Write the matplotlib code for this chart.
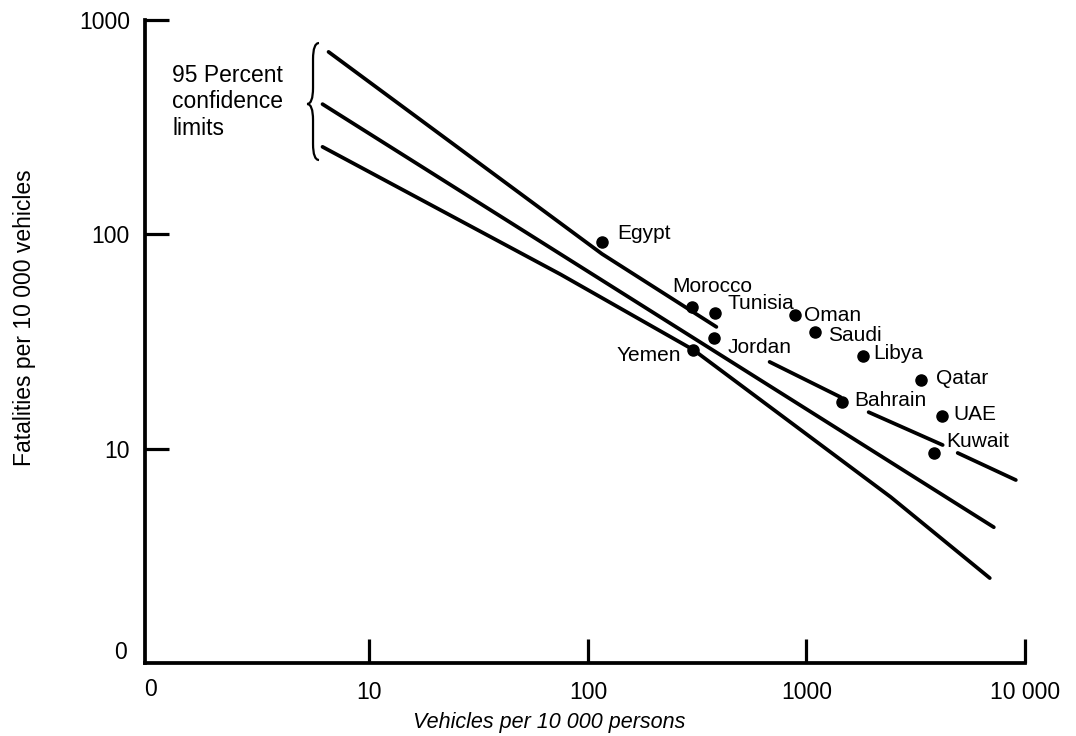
import numpy as np
import matplotlib
matplotlib.use("Agg")
import matplotlib.pyplot as plt
from matplotlib.path import Path
from matplotlib.patches import PathPatch

plt.rcParams['font.family'] = ['Liberation Sans', 'DejaVu Sans']

# data (log-log)
countries = ['Egypt', 'Morocco', 'Tunisia', 'Oman', 'Saudi', 'Jordan',
             'Yemen', 'Libya', 'Qatar', 'Bahrain', 'UAE', 'Kuwait']
vehicles = [116, 298, 383, 882, 1089, 379, 304, 1807, 3332, 1449, 4159, 3822]
fatalities = [92, 46, 43, 42, 35, 33, 29, 27, 21, 16.5, 14.2, 9.5]

# regression line and 95% confidence limits (nan = gap around labels)
reg_x = [6.1, 7200]
reg_y = [405, 4.3]
upper_x = [6.5, 116, 387, np.nan, 678, 1432, np.nan, 1925, 4200, np.nan, 4920, 9080]
upper_y = [710, 81, 37, np.nan, 25.4, 17.4, np.nan, 14.8, 10.4, np.nan, 9.55, 7.14]
lower_x = [6.1, 75, 304, 819, 2428, 6900]
lower_y = [256, 65, 28.9, 13.6, 5.95, 2.49]

x_ticks = [10, 100, 1000, 10000]
x_tick_labels = ['10', '100', '1000', '10 000']
y_ticks = [10, 100, 1000]
y_tick_labels = ['10', '100', '1000']

# label offsets in pixels (dx, dy, ha)
label_pos = {
    'Egypt': (15, 9, 'left'), 'Morocco': (-19, 20, 'left'),
    'Tunisia': (12, 9, 'left'), 'Oman': (9, 0, 'left'),
    'Saudi': (13, -3, 'left'), 'Jordan': (13, -10, 'left'),
    'Yemen': (-12, -6, 'right'), 'Libya': (11, 3, 'left'),
    'Qatar': (15, 1, 'left'), 'Bahrain': (13, 2, 'left'),
    'UAE': (12, 2, 'left'), 'Kuwait': (13, 12, 'left'),
}

fig = plt.figure(figsize=(10.76, 7.36), dpi=100)
ax = fig.add_axes([0.1348, 0.0992, 0.8178, 0.8736])
ax.set_xscale('log')
ax.set_yscale('log')
ax.set_xlim(0.94, 10000)
ax.set_ylim(1, 1000)

lw = 2.7
ax.plot(reg_x, reg_y, color='black', lw=lw, solid_capstyle='round')
ax.plot(upper_x, upper_y, color='black', lw=lw, solid_capstyle='round')
ax.plot(lower_x, lower_y, color='black', lw=lw, solid_capstyle='round')
ax.plot(vehicles, fatalities, 'o', color='black', ms=8, zorder=3)

for name, vx, fy in zip(countries, vehicles, fatalities):
    dx, dy, ha = label_pos[name]
    ax.annotate(name, (vx, fy), xytext=(dx, dy), textcoords='offset pixels',
                ha=ha, va='center', fontsize=15)

# axes styling
for side in ['top', 'right']:
    ax.spines[side].set_visible(False)
for side in ['left', 'bottom']:
    ax.spines[side].set_linewidth(2.7)
ax.minorticks_off()
ax.set_xticks(x_ticks)
ax.set_xticklabels(x_tick_labels)
ax.set_yticks(y_ticks)
ax.set_yticklabels(y_tick_labels)
ax.tick_params(direction='in', length=17, width=2.3, labelsize=16.5, pad=13)
ax.tick_params(axis='y', pad=11)

# the "0" at the origin
ax.annotate('0', (1, 1), xytext=(0, -27), textcoords='offset pixels',
            ha='center', va='center', fontsize=16.5)
ax.annotate('0', (0, 1), xycoords=('axes fraction', 'data'), xytext=(-18, 10),
            textcoords='offset pixels', ha='right', va='center', fontsize=16.5)

ax.set_xlabel('Vehicles per 10 000 persons', fontsize=15.5, style='italic', va='center')
ax.xaxis.set_label_coords(0.459, -0.093)
ax.set_ylabel('Fatalities per 10 000 vehicles', fontsize=16.5, va='center')
ax.yaxis.set_label_coords(-0.1375, 0.5365)

# brace + note for the confidence limits
xc, w = 0.1909, 0.0068
yt, ym, yb, dy = 0.9642, 0.8694, 0.7823, 0.025
verts = [(xc + w, yt), (xc, yt), (xc, yt - dy), (xc, ym + dy),
         (xc, ym), (xc - w, ym), (xc, ym), (xc, ym - dy),
         (xc, yb + dy), (xc, yb), (xc + w, yb)]
codes = [Path.MOVETO, Path.CURVE3, Path.CURVE3, Path.LINETO,
         Path.CURVE3, Path.CURVE3, Path.CURVE3, Path.CURVE3,
         Path.LINETO, Path.CURVE3, Path.CURVE3]
ax.add_patch(PathPatch(Path(verts, codes), fill=False, lw=1.6,
                       transform=ax.transAxes, clip_on=False))
ax.text(0.0307, 0.8725, '95 Percent\nconfidence\nlimits', transform=ax.transAxes,
        ha='left', va='center', fontsize=16.5, linespacing=1.2)

fig.savefig('out.png', dpi=100)
